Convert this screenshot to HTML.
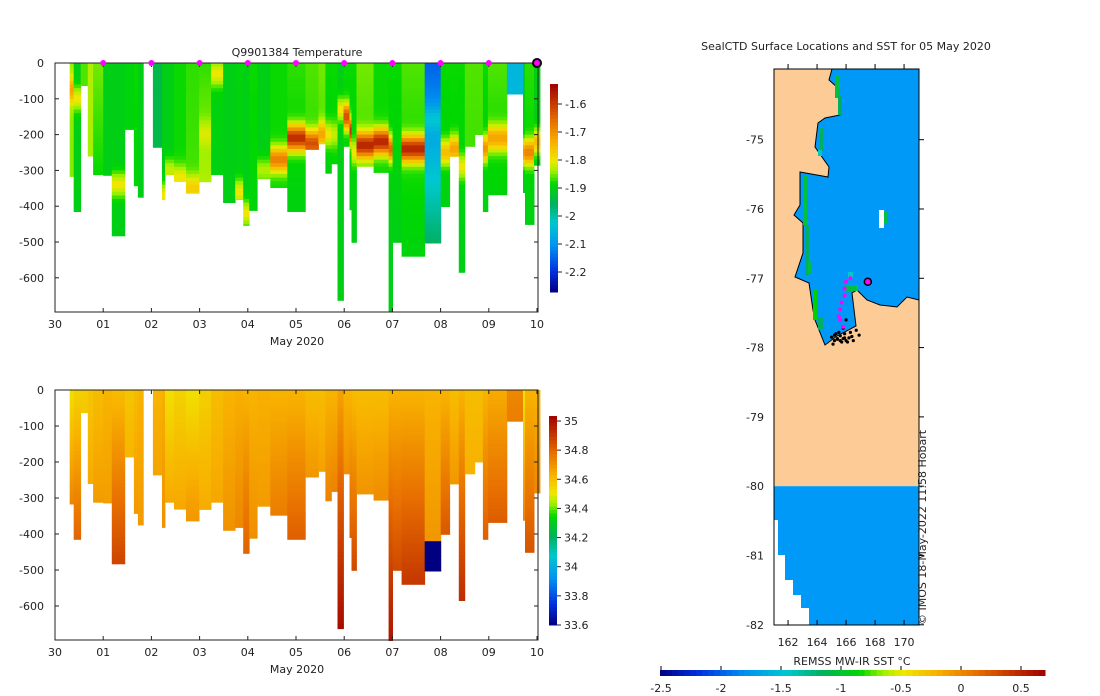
<!DOCTYPE html>
<html><head><meta charset="utf-8">
<style>
html,body{margin:0;padding:0;background:#fff;}
svg{display:block;font-family:"DejaVu Sans","Liberation Sans",sans-serif;}
text{fill:#222;font-size:11px;}
</style></head>
<body>
<svg id="c" width="1100" height="696" viewBox="0 0 1100 696" xmlns="http://www.w3.org/2000/svg">
<g id="topSec"></g>
<g id="botSec"></g>
<g id="mapSec"></g>
<g id="annSec"></g>
</svg>
<script>
// ---- profile data (days since 30 Apr) ----
const profStart=[0.305,0.388,0.534,0.680,0.791,0.999,1.179,1.449,1.637,1.720,1.831,2.032,2.219,2.282,2.469,2.718,2.989,3.239,3.488,3.738,3.904,4.029,4.196,4.466,4.820,5.194,5.465,5.610,5.735,5.860,5.985,6.110,6.151,6.255,6.609,6.921,7.004,7.191,7.670,8.003,8.190,8.377,8.502,8.710,8.877,8.981,9.376,9.709,9.750,9.938];
const profEnd=10.062;
const profDepth=[317,415,63,260,312,314,483,186,343,375,0,236,382,312,331,364,332,312,390,382,454,412,323,348,415,242,226,308,282,663,233,410,501,289,306,696,501,540,503,401,261,585,233,200,415,368,87,362,451,286];
const tSurf=[-1.84,-1.9,-1.86,-1.83,-1.85,-1.9,-1.9,-1.89,-1.88,-1.9,-1.9,-1.94,-1.9,-1.9,-1.88,-1.87,-1.87,-1.89,-1.9,-1.89,-1.9,-1.88,-1.9,-1.88,-1.87,-1.86,-1.85,-1.88,-1.88,-1.9,-1.88,-1.88,-1.88,-1.85,-1.88,-1.88,-1.88,-1.86,-2.15,-1.88,-1.88,-1.88,-1.86,-1.86,-1.88,-1.86,-2.05,-1.9,-1.87,-1.9];
const tDeep=[-1.85,-1.9,-1.86,-1.84,-1.9,-1.9,-1.9,-1.89,-1.89,-1.9,-1.9,-1.94,-1.9,-1.9,-1.88,-1.86,-1.81,-1.9,-1.9,-1.9,-1.9,-1.89,-1.9,-1.88,-1.9,-1.88,-1.88,-1.9,-1.89,-1.9,-1.9,-1.9,-1.9,-1.88,-1.88,-1.9,-1.9,-1.89,-1.96,-1.9,-1.89,-1.9,-1.87,-1.87,-1.9,-1.9,-2.05,-1.9,-1.9,-1.9];
const tWarm=[-1.72,-1.80,-1.86,-1.83,-1.85,-1.9,-1.80,-1.89,-1.88,-1.9,-1.9,-1.94,-1.8,-1.82,-1.8,-1.77,-1.81,-1.8,-1.9,-1.8,-1.8,-1.88,-1.83,-1.68,-1.58,-1.62,-1.72,-1.8,-1.82,-1.8,-1.62,-1.58,-1.8,-1.57,-1.57,-1.65,-1.88,-1.57,-2.03,-1.75,-1.72,-1.8,-1.86,-1.86,-1.7,-1.72,-2.05,-1.7,-1.68,-1.75];
const dWarm=[75,100,0,0,0,0,340,0,0,0,0,0,370,300,320,350,200,30,0,360,420,0,300,270,210,225,200,200,200,130,150,190,250,230,220,240,0,240,160,250,240,290,0,0,240,210,0,250,250,220];
const sSurf=[34.52,34.55,34.56,34.58,34.6,34.62,34.6,34.58,34.6,34.62,34.62,34.62,34.63,34.52,34.55,34.52,34.56,34.6,34.62,34.63,34.62,34.62,34.63,34.62,34.62,34.6,34.6,34.62,34.62,34.66,34.62,34.62,34.6,34.6,34.6,34.62,34.62,34.62,34.62,34.62,34.6,34.62,34.6,34.6,34.62,34.64,34.72,34.5,34.62,34.62];
const sDeep=[34.85,34.85,34.7,34.7,34.72,34.7,34.88,34.68,34.72,34.7,34.7,34.7,34.72,34.72,34.7,34.75,34.68,34.68,34.72,34.75,34.82,34.72,34.7,34.8,34.85,34.78,34.74,34.8,34.82,34.92,34.8,34.85,34.86,34.76,34.78,34.88,34.86,34.88,34.7,34.88,34.76,34.88,34.66,34.66,34.85,34.88,34.85,34.82,34.86,34.8];
const sLowFrom=[0,0,0,0,0,0,0,0,0,0,0,0,0,0,0,0,0,0,0,0,0,0,0,0,0,0,0,0,0,0,0,0,0,0,0,0,0,0,425,0,0,0,0,0,0,0,0,0,0,0];
const xTickLabels=["30","01","02","03","04","05","06","07","08","09","10"];
const tDepthTicks=[0,100,200,300,400,500,600];
const tempCbTicks=[-1.6,-1.7,-1.8,-1.9,-2,-2.1,-2.2];
const salCbTicks=[35,34.8,34.6,34.4,34.2,34,33.8,33.6];
const sstTicks=[-2.5,-2,-1.5,-1,-0.5,0,0.5];
const latTicks=[-75,-76,-77,-78,-79,-80,-81,-82];
const lonTicks=[162,164,166,168,170];
const trackLon=[166.0,165.9,165.7,165.6,165.5,165.6,165.8,165.9,166.3,167.5];
const trackLat=[-77.05,-77.15,-77.35,-77.45,-77.55,-77.6,-77.7,-77.25,-77.0,-77.05];
const clusterLon=[165.0,165.2,165.4,165.6,165.8,166.0,166.2,165.3,165.7,166.4,166.7,165.1,165.5,165.9,166.1,165.8,165.6,166.5,166.9,165.4,165.9,166.3,165.2,166.0];
const clusterLat=[-77.85,-77.9,-77.88,-77.83,-77.87,-77.9,-77.86,-77.8,-77.92,-77.84,-77.75,-77.95,-77.78,-77.8,-77.92,-77.72,-77.9,-77.9,-77.82,-77.87,-77.86,-77.78,-77.82,-77.6];

const NS='http://www.w3.org/2000/svg';
function el(tag,attrs,parent){const e=document.createElementNS(NS,tag);for(const k in attrs)e.setAttribute(k,attrs[k]);parent.appendChild(e);return e;}
const stops=[[0,[0,0,128]],[0.1,[0,48,224]],[0.22,[0,144,240]],[0.33,[0,200,208]],[0.42,[0,176,96]],[0.52,[0,216,0]],[0.58,[160,240,0]],[0.63,[240,232,0]],[0.72,[248,176,0]],[0.82,[232,112,0]],[0.92,[192,48,0]],[1,[160,0,0]]];
function cmap(t){t=Math.max(0,Math.min(1,t));for(let i=1;i<stops.length;i++){if(t<=stops[i][0]){const a=stops[i-1],b=stops[i];const f=(t-a[0])/(b[0]-a[0]);const c=a[1].map((v,j)=>Math.round(v+(b[1][j]-v)*f));return 'rgb('+c[0]+','+c[1]+','+c[2]+')';}}return 'rgb(160,0,0)';}
const X0=55,DX=48.2;
function xDay(d){return X0+d*DX;}
const TMIN=-2.27,TMAX=-1.525,SMIN=33.6,SMAX=35.03;
function tempAt(i,d){const f=Math.min(d/500,1);let base=tSurf[i]+(tDeep[i]-tSurf[i])*f;if(dWarm[i]>0){const g=Math.exp(-Math.pow((d-dWarm[i])/35,2));base+=(tWarm[i]-base)*g;}return base;}
function salAt(i,d){if(sLowFrom[i]>0&&d>=sLowFrom[i])return 33.6;return sSurf[i]+(sDeep[i]-sSurf[i])*Math.min(d/500,1.4);}

function drawSection(g,y0,ky,valFn,vmin,vmax,kind){
  const step=10;
  for(let i=0;i<profStart.length;i++){
    const x1=xDay(profStart[i]),x2=xDay(i+1<profStart.length?profStart[i+1]:profEnd);
    for(let d=0;d<profDepth[i];d+=step){
      const h=Math.min(step,profDepth[i]-d);
      const r=el('rect',{x:x1.toFixed(1),y:(y0+d*ky).toFixed(1),width:(x2-x1+0.4).toFixed(1),height:(h*ky+0.4).toFixed(1),fill:cmap((valFn(i,d+h/2)-vmin)/(vmax-vmin))},g);
      
      
    }
  }
  const yb=y0+(kind==='t'?249:250);
  const box=el('rect',{x:X0,y:y0,width:538-X0,height:yb-y0,fill:'none',stroke:'#222','stroke-width':1},g);
  
  
  tDepthTicks.forEach(v=>{const y=y0+v*ky;el('line',{x1:X0,x2:X0+4,y1:y,y2:y,stroke:'#222'},g);el('line',{x1:534,x2:538,y1:y,y2:y,stroke:'#222'},g);
    const t=el('text',{x:X0-11,y:y+4,'text-anchor':'end'},g);t.textContent=v===0?'0':'-'+v;
    
    });
  xTickLabels.forEach((s,k)=>{const x=xDay(k);el('line',{x1:x,x2:x,y1:yb,y2:yb-4,stroke:'#222'},g);el('line',{x1:x,x2:x,y1:y0,y2:y0+4,stroke:'#222'},g);
    const t=el('text',{x:x,y:yb+16,'text-anchor':'middle'},g);t.textContent=s;
    
    });
  const xl=el('text',{x:297,y:yb+33,'text-anchor':'middle'},g);xl.textContent='May 2020';
  
  
}
const topG=document.getElementById('topSec'),botG=document.getElementById('botSec');
drawSection(topG,63,0.358,tempAt,TMIN,TMAX,'t');
drawSection(botG,390,0.36,salAt,SMIN,SMAX,'s');
{const t=el('text',{x:297,y:56,'text-anchor':'middle'},topG);t.textContent='Q9901384  Temperature';

}
for(let k=1;k<=9;k++){const c=el('circle',{cx:xDay(k),cy:63,r:3,fill:'#f0f'},topG);

}
{const c=el('circle',{cx:xDay(10),cy:63,r:4,fill:'#f0f',stroke:'#000','stroke-width':2},topG);

}
function colorbar(g,x,yTop,yBot,vmin,vmax,ticks,yOf,name){
  const n=60;for(let k=0;k<n;k++){const y=yTop+(yBot-yTop)*k/n;const v=vmax-(vmax-vmin)*(k+0.5)/n;el('rect',{x:x,y:y.toFixed(1),width:8,height:((yBot-yTop)/n+0.5).toFixed(1),fill:cmap((v-vmin)/(vmax-vmin))},g);}
  ticks.forEach(v=>{const y=yOf(v);el('line',{x1:x+8,x2:x+12,y1:y,y2:y,stroke:'#222'},g);const t=el('text',{x:x+15,y:y+4},g);t.textContent=String(v);
  
  });
}
colorbar(topG,550,84,292,TMIN,TMAX,tempCbTicks,v=>104+(-1.6-v)*280,'temp-colorbar');
colorbar(botG,549,416,625,SMIN,SMAX,salCbTicks,v=>421+(35-v)*145.7,'sal-colorbar');

// ---- map ----
const mapG=document.getElementById('mapSec');
const MX0=774,MX1=919,MY0=69,MY1=625;
function mx(lon){return 774+(lon-161.03)*14.5;}
function my(lat){return 69+(-73.98-lat)*69.3;}
el('rect',{x:MX0,y:MY0,width:MX1-MX0,height:my(-80)-MY0,fill:'#fdcb96'},mapG);
el('rect',{x:MX0,y:my(-80),width:MX1-MX0,height:MY1-my(-80),fill:'#0099f8'},mapG);
[[774,520,4,105],[774,555,11,70],[774,580,19,45],[774,595,27,30],[774,608,35,17]].forEach(a=>el('rect',{x:a[0],y:a[1],width:a[2],height:a[3],fill:'#fff'},mapG));
const ocean=[[832,69],[919,69],[919,300],[907,297],[897,307],[880,305],[867,300],[857,290],[852,293],[856,326],[837,336],[825,345],[815,320],[813,310],[809,283],[795,277],[803,253],[803,223],[794,215],[800,205],[800,172],[828,177],[829,167],[822,157],[815,147],[818,123],[825,118],[840,115],[838,88],[829,80]];
const op=el('polygon',{points:ocean.map(p=>p.join(',')).join(' '),fill:'#0099f8',stroke:'#000','stroke-width':1},mapG);


[[835,76,4,22,'#00c040'],[838,95,4,20,'#00b060'],[820,128,3,24,'#00b060'],[818,150,4,6,'#00c8c0'],[803,175,4,50,'#00c040'],[805,225,4,50,'#00b060'],[808,262,3,12,'#00c040'],[813,290,4,30,'#00d000'],[818,318,5,12,'#00b060'],[848,272,5,6,'#00c8d0'],[846,285,12,6,'#00c040'],[879,210,5,18,'#fff'],[884,212,3,12,'#00c040']].forEach(a=>el('rect',{x:a[0],y:a[1],width:a[2],height:a[3],fill:a[4]},mapG));
for(let k=0;k<clusterLon.length;k++){const c=el('circle',{cx:mx(clusterLon[k]),cy:my(clusterLat[k]),r:1.6,fill:'#000'},mapG);

}
for(let k=0;k<trackLon.length-1;k++){const c=el('circle',{cx:mx(trackLon[k]),cy:my(trackLat[k]),r:2,fill:'#f0f'},mapG);

}
{const k=trackLon.length-1;const c=el('circle',{cx:mx(trackLon[k]),cy:my(trackLat[k]),r:3.5,fill:'#f0f',stroke:'#000','stroke-width':1.5},mapG);

}
el('rect',{x:MX0,y:MY0,width:MX1-MX0,height:MY1-MY0,fill:'none',stroke:'#000'},mapG);
latTicks.forEach(v=>{const y=my(v);el('line',{x1:919,x2:924,y1:y,y2:y,stroke:'#000'},mapG);const t=el('text',{x:764,y:y+4,'text-anchor':'end'},mapG);t.textContent=String(v);

});
lonTicks.forEach(v=>{const x=mx(v);el('line',{x1:x,x2:x,y1:69,y2:64,stroke:'#000'},mapG);el('line',{x1:x,x2:x,y1:625,y2:620,stroke:'#000'},mapG);const t=el('text',{x:x,y:646,'text-anchor':'middle'},mapG);t.textContent=String(v);

});
{const t=el('text',{x:846,y:50,'text-anchor':'middle'},mapG);t.textContent='SealCTD Surface Locations and SST for 05 May 2020';

}
{const t=el('text',{x:0,y:0,'font-size':'9.5',transform:'translate(926,625) rotate(-90)'},mapG);t.textContent='\u00a9 IMOS 18-May-2022 11:58 Hobart';

}
const annG=document.getElementById('annSec');
function sx(v){return 661+(v+2.5)*120;}
for(let k=0;k<64;k++){const x=660+385*k/64;const v=-2.5+3.2*(k+0.5)/64;el('rect',{x:x.toFixed(1),y:670,width:(385/64+0.5).toFixed(1),height:6,fill:cmap((v+2.5)/3.2)},annG);}
sstTicks.forEach(v=>{const x=sx(v);el('line',{x1:x,x2:x,y1:666,y2:670,stroke:'#000'},annG);const t=el('text',{x:x,y:692,'text-anchor':'middle'},annG);t.textContent=String(v);

});
{const t=el('text',{x:852,y:665,'text-anchor':'middle'},annG);t.textContent='REMSS MW-IR SST \u00b0C';

}
</script>
</body></html>
